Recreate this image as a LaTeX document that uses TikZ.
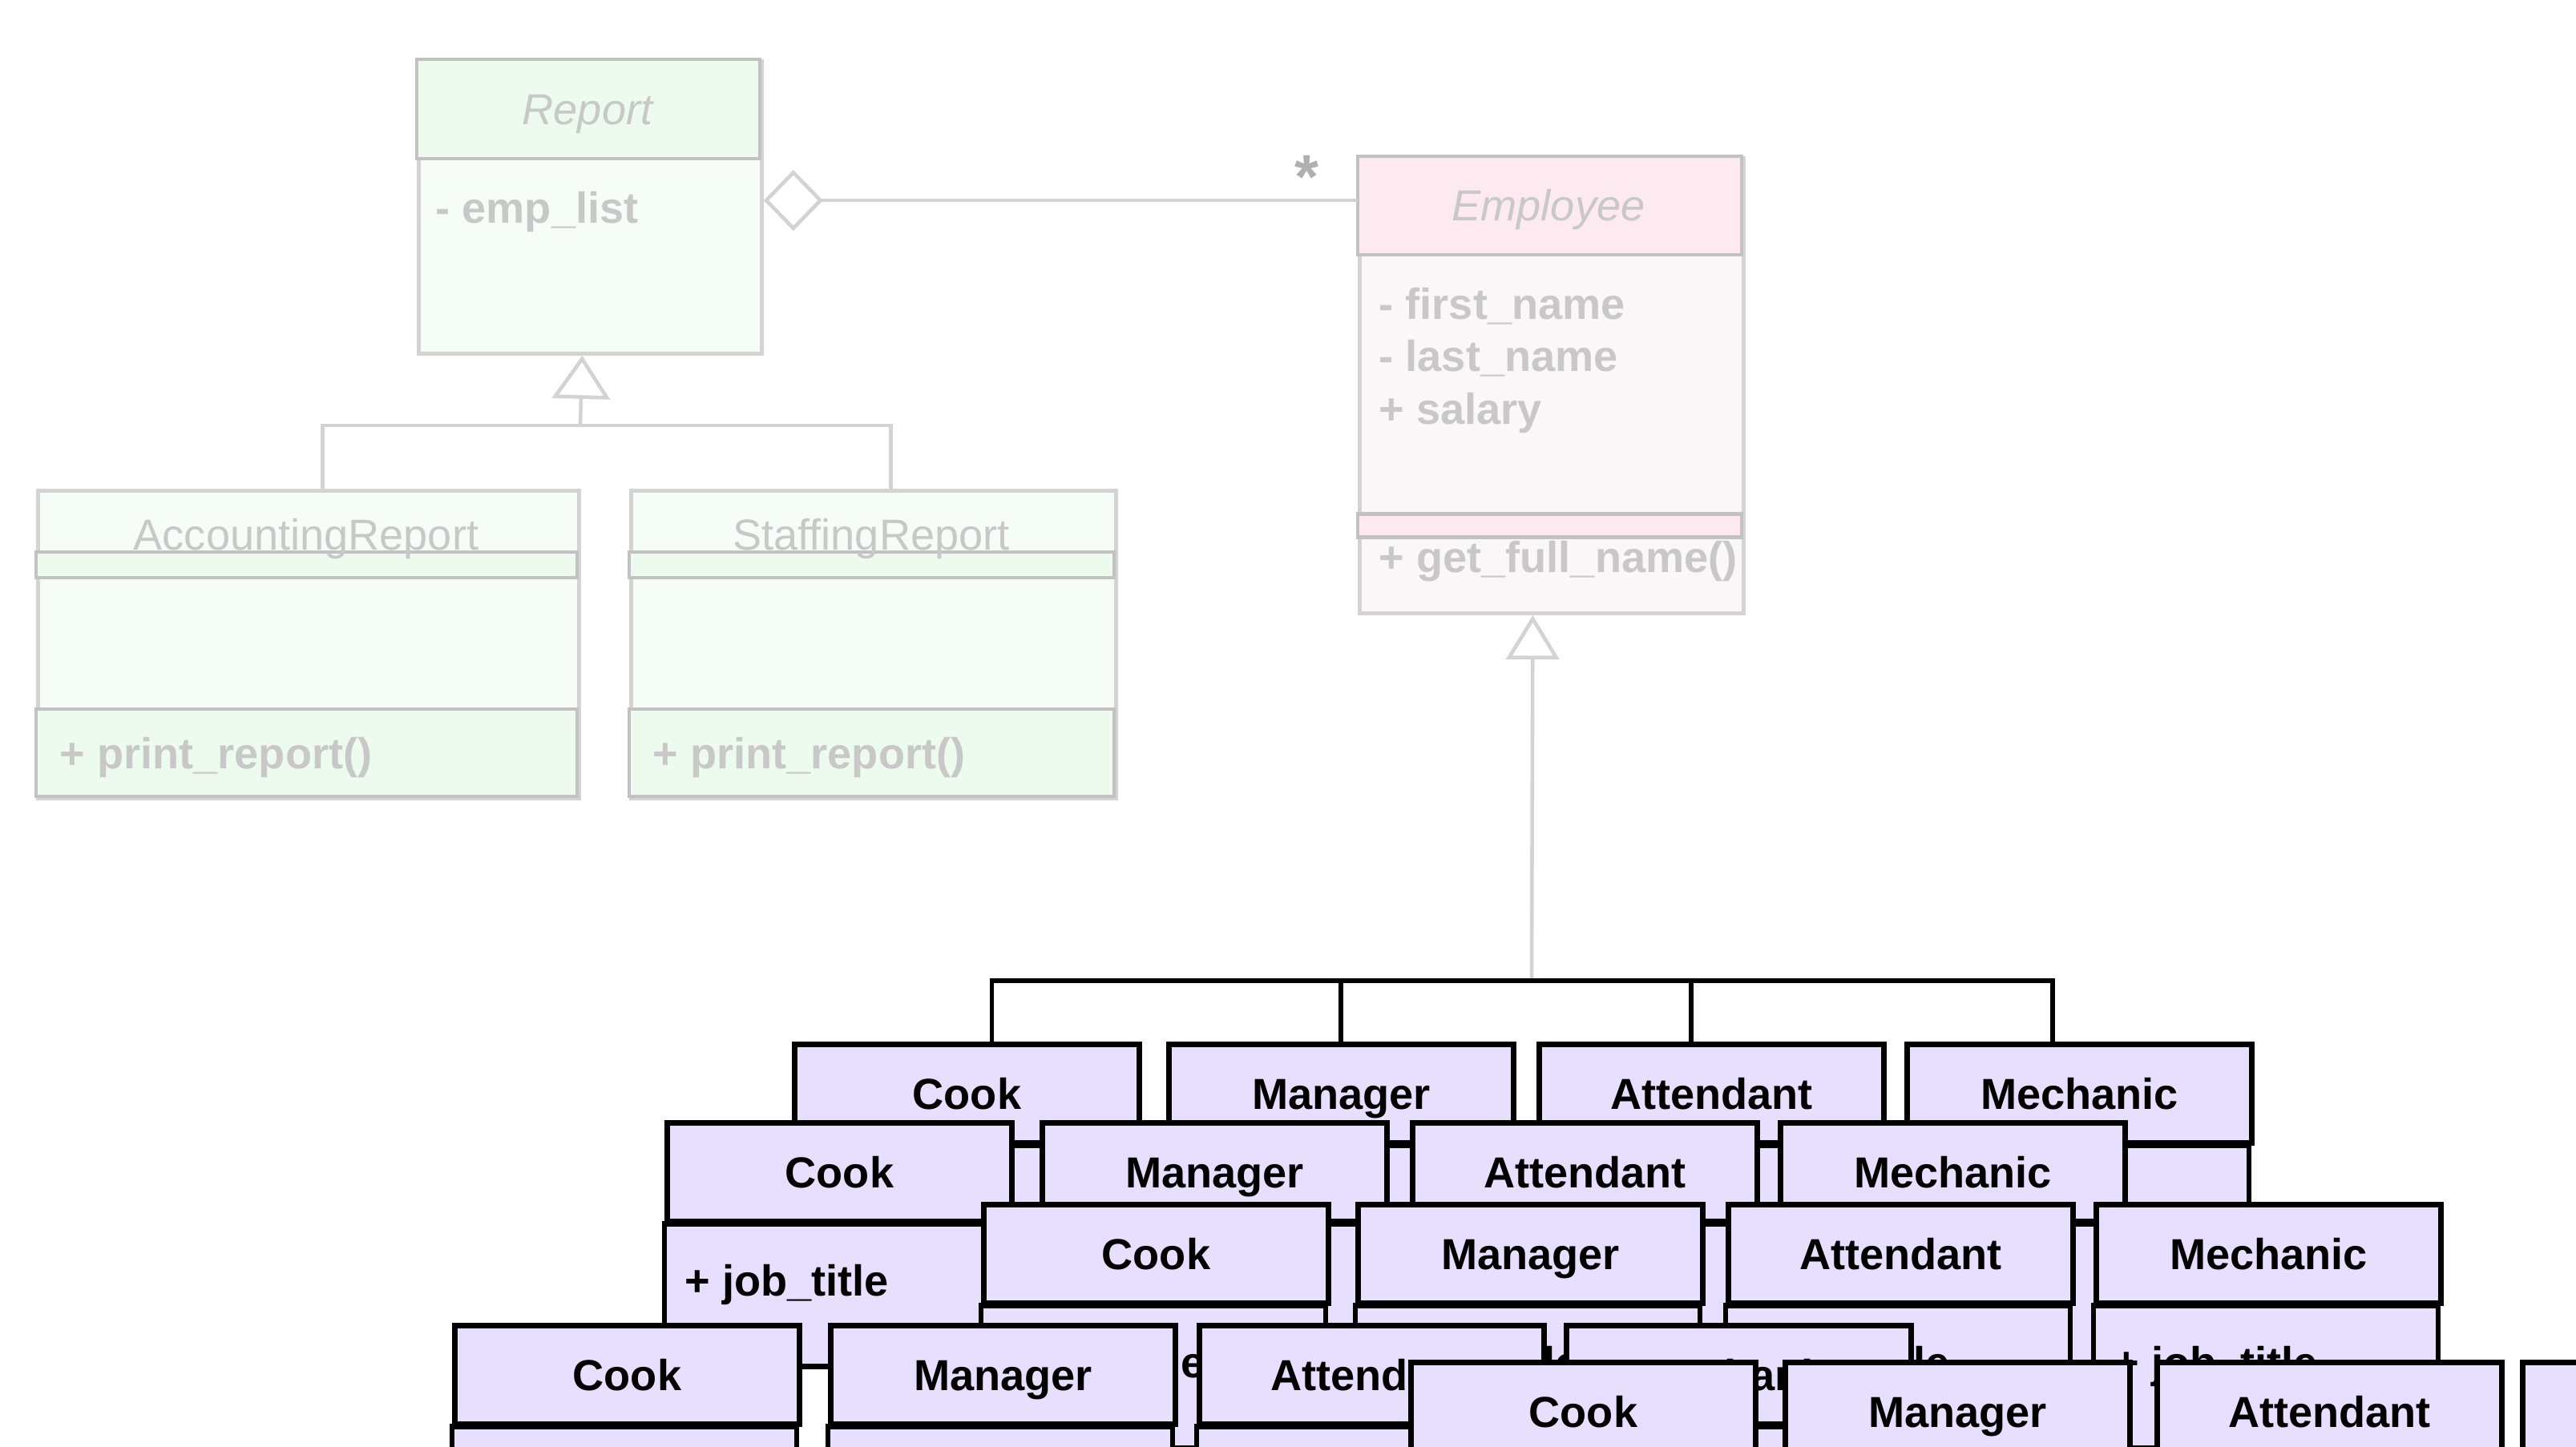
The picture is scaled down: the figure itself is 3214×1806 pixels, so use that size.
\documentclass[tikz,border=0pt]{standalone}
\usepackage{fontspec}
\setmainfont{Liberation Sans}
\usetikzlibrary{arrows.meta}
\definecolor{lav}{HTML}{E8DEFD}
\definecolor{mint}{HTML}{EDFAEE}
\definecolor{mintpale}{HTML}{F6FDF6}
\definecolor{rose}{HTML}{FCEAF0}
\definecolor{rosepale}{HTML}{FBF6F7}
\definecolor{gline}{HTML}{D3D3D3}
\definecolor{gedge}{HTML}{C2C2C2}
\definecolor{gtxt}{HTML}{C8C8C8}
\definecolor{gstar}{HTML}{AFAFAF}
\newcommand{\uml}{\fontsize{15.4}{18}\selectfont}
\tikzset{
  every node/.style={font=\uml},
  gbox/.style={
    rectangle, draw=gline, line width=1.3pt,
    anchor=north west, inner sep=0pt
  },
  gpart/.style={draw=gedge, line width=1.3pt},
  gname/.style={anchor=base, inner sep=0pt, text=gtxt},
  gattr/.style={anchor=base west, inner sep=0pt, text=gtxt, font=\uml\bfseries},
  glink/.style={draw=gline, line width=1.3pt},
  subhead/.style={
    rectangle, draw=black, fill=lav, line width=1.9pt,
    anchor=north west, inner sep=0pt,
    minimum width=4.3cm, minimum height=1.23cm,
    text height=0.39cm, text depth=0pt, font=\uml\bfseries
  },
  subbody/.style={draw=black, fill=lav, line width=1.9pt},
  subattr/.style={anchor=base west, inner sep=0pt, font=\uml\bfseries},
  bus/.style={draw=black, line width=1.7pt},
}
% one subclass box of Employee: name, x, y, title
\newcommand{\jobclass}[4]{%
  \node[subhead] (#1) at (#2,#3) {#4};
  \filldraw[subbody] (#1.south west) rectangle ++(430,178);
  \node[subattr] at ([xshift=0.25cm,yshift=-0.9cm]#1.south west) {+ job\_title};
}

\begin{document}
\begin{tikzpicture}[x=0.01cm, y=-0.01cm]
  \useasboundingbox (0,0) rectangle (3214,1806);
  \clip (0,0) rectangle (3214,1806);
  \fill[white] (0,0) rectangle (3214,1806);

  % Report and its subclasses
  \node[gbox, fill=mintpale, minimum width=4.28cm, minimum height=3.65cm] (report) at (520,74) {};
  \filldraw[gpart, fill=mint] (report.north west) rectangle ++(428,124);
  \node[gname, font=\uml\itshape] at (733,156) {Report};
  \node[gattr] at (543,279) {- emp\_list};

  \node[gbox, fill=mintpale, minimum width=6.75cm, minimum height=3.84cm] (accounting) at (45,610) {};
  \filldraw[gpart, fill=mint] ([yshift=-0.79cm]accounting.north west) rectangle ++(675,32);
  \filldraw[gpart, fill=mint] ([yshift=-2.75cm]accounting.north west) rectangle ++(675,109);
  \node[gname] at (382,686) {AccountingReport};
  \node[gattr] at (74,959) {+ print\_report()};

  \node[gbox, fill=mintpale, minimum width=6.05cm, minimum height=3.84cm] (staffing) at (785,610) {};
  \filldraw[gpart, fill=mint] ([yshift=-0.79cm]staffing.north west) rectangle ++(605,32);
  \filldraw[gpart, fill=mint] ([yshift=-2.75cm]staffing.north west) rectangle ++(605,109);
  \node[gname] at (1087,686) {StaffingReport};
  \node[gattr] at (814,959) {+ print\_report()};

  \coordinate (rephub) at (724,531);
  \draw[glink] ([xshift=0.175cm]accounting.north) |- (rephub) -| ([xshift=0.215cm]staffing.north);
  \draw[glink, -{Triangle[open, length=0.54cm, width=0.72cm]}] (rephub) -- ([xshift=-0.1cm]report.south);

  % Employee
  \node[gbox, fill=rosepale, minimum width=4.79cm, minimum height=5.68cm] (employee) at (1694,195) {};
  \filldraw[gpart, fill=rose] (employee.north west) rectangle ++(479,123);
  \filldraw[gpart, fill=rose] ([yshift=-4.46cm]employee.north west) rectangle ++(479,29);
  \node[gname, font=\uml\itshape] at (1932,276) {Employee};
  \node[gattr] at (1720,399) {- first\_name};
  \node[gattr] at (1720,463) {- last\_name};
  \node[gattr] at (1720,529) {+ salary};
  \node[gattr] at (1720,714) {+ get\_full\_name()};

  \coordinate (agg) at ([yshift=-1.76cm]report.north east);
  \draw[glink, {Diamond[open, length=0.74cm, width=0.76cm]}-] (agg) -- (agg -| employee.west);
  \node[gname, text=gstar, font=\fontsize{22}{24}\selectfont\bfseries] (many) at (1631,248) {*};

  \coordinate (hub) at (1911,1224);
  \draw[glink, -{Triangle[open, length=0.55cm, width=0.66cm]}] (hub) -- ([xshift=-0.235cm]employee.south);

  % the stack of job classes
  \jobclass{cook1}{988}{1300}{Cook}
  \jobclass{manager1}{1455}{1300}{Manager}
  \jobclass{attendant1}{1917}{1300}{Attendant}
  \jobclass{mechanic1}{2376}{1300}{Mechanic}

  \jobclass{cook2}{829}{1398}{Cook}
  \jobclass{manager2}{1297}{1398}{Manager}
  \jobclass{attendant2}{1759}{1398}{Attendant}
  \jobclass{mechanic2}{2218}{1398}{Mechanic}

  \jobclass{cook3}{1224}{1500}{Cook}
  \jobclass{manager3}{1691}{1500}{Manager}
  \jobclass{attendant3}{2153}{1500}{Attendant}
  \jobclass{mechanic3}{2612}{1500}{Mechanic}

  \jobclass{cook4}{564}{1651}{Cook}
  \jobclass{manager4}{1033}{1651}{Manager}
  \jobclass{attendant4}{1493}{1651}{Attendant}
  \jobclass{mechanic4}{1951}{1651}{Mechanic}

  \jobclass{cook5}{1757}{1697}{Cook}
  \jobclass{manager5}{2224}{1697}{Manager}
  \jobclass{attendant5}{2688}{1697}{Attendant}
  \jobclass{mechanic5}{3144}{1697}{Mechanic}

  \draw[bus] ([xshift=0.31cm]cook1.north) |- (hub) -| ([xshift=-0.33cm]mechanic1.north);
  \draw[bus] (manager1.north) -- ++(0,-76);
  \draw[bus] ([xshift=-0.25cm]attendant1.north) -- ++(0,-76);
\end{tikzpicture}
\end{document}
